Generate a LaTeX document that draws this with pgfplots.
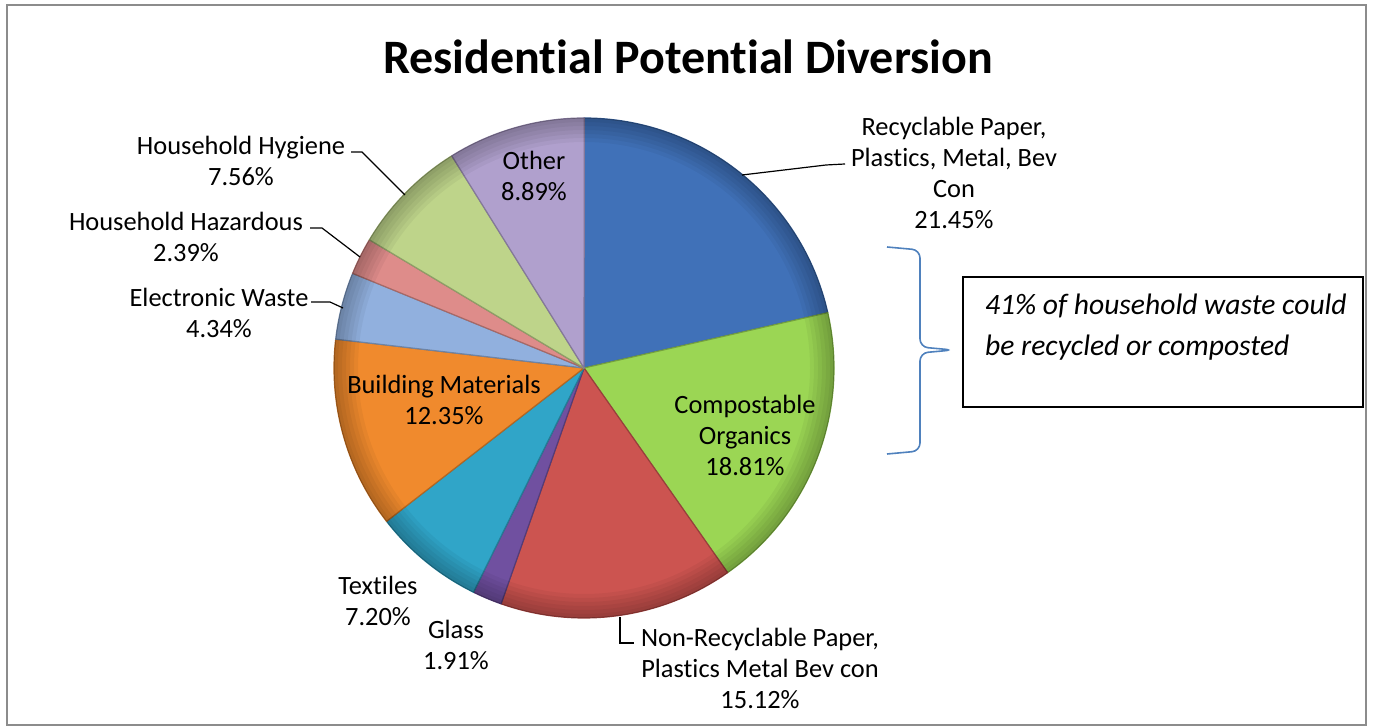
\documentclass[border=0pt]{standalone}
\usepackage{pgfplots}
\pgfplotsset{compat=1.18}
\usepackage{pgfplotstable}
\usepackage{fontspec}
\setmainfont{Carlito}[RawFeature={-liga,-clig}]

% slice colours, clockwise from 12 o'clock
\definecolor{pie0}{RGB}{64,113,184}
\definecolor{pie1}{RGB}{155,214,84}
\definecolor{pie2}{RGB}{204,84,80}
\definecolor{pie3}{RGB}{112,80,160}
\definecolor{pie4}{RGB}{48,165,200}
\definecolor{pie5}{RGB}{240,138,45}
\definecolor{pie6}{RGB}{145,176,222}
\definecolor{pie7}{RGB}{222,140,138}
\definecolor{pie8}{RGB}{190,212,138}
\definecolor{pie9}{RGB}{176,160,205}
\definecolor{frame}{RGB}{140,140,140}
\definecolor{brace}{RGB}{79,129,189}

\pgfplotstableread{
share
21.45
18.81
15.12
1.91
7.20
12.35
4.34
2.39
7.56
8.89
}\pietable

\begin{document}
\begin{tikzpicture}[lbl/.style={align=center, font=\fontsize{13.2}{15.5}\selectfont}]
\begin{axis}[
  width=687pt, height=363.5pt, scale only axis,
  xmin=0, xmax=1374, ymin=0, ymax=727,
  hide axis, clip=false,
]
\path (axis cs:0,0) rectangle (axis cs:1374,727);
\draw[frame, line width=1pt] (axis cs:7,2) rectangle (axis cs:1366,722);

% wedges
\def\cum{0}
\pgfplotsforeachungrouped \i in {0,...,9}{
  \pgfplotstablegetelem{\i}{share}\of\pietable
  \pgfmathsetmacro{\aA}{90-3.6*\cum}
  \pgfmathsetmacro{\aB}{90-3.6*(\cum+\pgfplotsretval)}
  \pgfmathsetmacro{\cum}{\cum+\pgfplotsretval}
  \edef\temp{\noexpand\fill[fill=pie\i, draw=pie\i!75!black, line width=0.6pt, line join=round]
    (axis cs:584,359) -- ++(\aA:125pt) arc[start angle=\aA, end angle=\aB, radius=125pt] -- cycle;}
  \temp
}
% darker rim (bevel look)
\pgfplotsinvokeforeach{113,115,117,119,121,123}{
  \fill[black, fill opacity=0.045, even odd rule]
    (axis cs:584,359) circle[radius=125pt] (axis cs:584,359) circle[radius=#1pt];
}

% title
\node[font=\fontsize{24}{30}\selectfont\bfseries] at (axis cs:688,670) {Residential Potential Diversion};

% labels
\node[lbl] at (axis cs:954,554.5) {Recyclable Paper,\\Plastics, Metal, Bev\\Con\\21.45\%};
\node[lbl] at (axis cs:745,292) {Compostable\\Organics\\18.81\%};
\node[lbl] at (axis cs:760,59) {Non-Recyclable Paper,\\Plastics Metal Bev con\\15.12\%};
\node[lbl] at (axis cs:456,82) {Glass\\1.91\%};
\node[lbl] at (axis cs:378,126) {Textiles\\7.20\%};
\node[lbl] at (axis cs:444,327) {Building Materials\\12.35\%};
\node[lbl] at (axis cs:219,414) {Electronic Waste\\4.34\%};
\node[lbl] at (axis cs:186,490) {Household Hazardous\\2.39\%};
\node[lbl] at (axis cs:241,566) {Household Hygiene\\7.56\%};
\node[lbl] at (axis cs:534,551) {Other\\8.89\%};

% leader lines
\draw[black, line width=0.6pt] (axis cs:742,552) -- (axis cs:826,562) -- (axis cs:845,563);
\draw[black, line width=0.6pt] (axis cs:620,110) -- (axis cs:620,84) -- (axis cs:634,84);
\draw[black, line width=0.6pt] (axis cs:311,425) -- (axis cs:330,425) -- (axis cs:343,419);
\draw[black, line width=0.6pt] (axis cs:310,499) -- (axis cs:322,499) -- (axis cs:360,470);
\draw[black, line width=0.6pt] (axis cs:351,575) -- (axis cs:362,575) -- (axis cs:405,532);

% brace and note
\draw[brace, line width=0.8pt, rounded corners=4pt]
  (axis cs:887,480) -- (axis cs:920,477) -- (axis cs:920,380) -- (axis cs:953,377)
  -- (axis cs:920,374) -- (axis cs:920,276) -- (axis cs:887,273);
\draw[black, line width=0.8pt] (axis cs:963,320) rectangle (axis cs:1363,450);
\node[anchor=west, font=\fontsize{14.8}{16}\selectfont\itshape] at (axis cs:978,421) {41\% of household waste could};
\node[anchor=west, font=\fontsize{14.8}{16}\selectfont\itshape] at (axis cs:978,379) {be recycled or composted};
\end{axis}
\end{tikzpicture}
\end{document}
